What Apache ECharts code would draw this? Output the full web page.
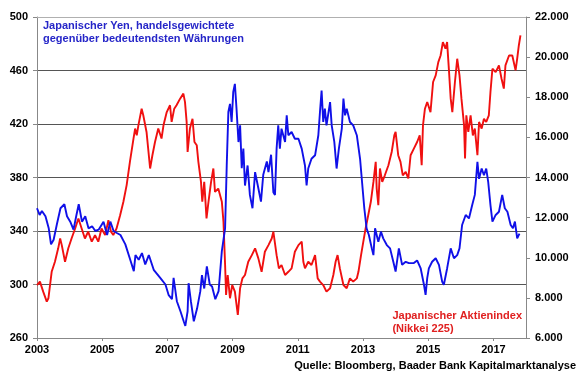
<!DOCTYPE html>
<html>
<head>
<meta charset="utf-8">
<script src="https://cdn.jsdelivr.net/npm/echarts@6/dist/echarts.min.js"></script>
<style>html,body{margin:0;padding:0;background:#fff;}#c{width:580px;height:375px;}</style>
</head>
<body>
<div id="c"></div>
<script>
// Time (decimal years) and values
const yenTimes = [2003.00,2003.08,2003.15,2003.26,2003.36,2003.43,2003.51,2003.61,2003.72,2003.84,2003.92,2004.02,2004.12,2004.21,2004.28,2004.38,2004.48,2004.58,2004.69,2004.79,2004.89,2005.04,2005.15,2005.25,2005.35,2005.45,2005.56,2005.71,2005.86,2005.97,2006.02,2006.12,2006.22,2006.32,2006.43,2006.58,2006.78,2006.94,2007.04,2007.14,2007.19,2007.29,2007.40,2007.50,2007.55,2007.62,2007.65,2007.72,2007.81,2007.91,2008.01,2008.06,2008.13,2008.21,2008.30,2008.37,2008.47,2008.57,2008.67,2008.77,2008.82,2008.87,2008.92,2008.97,2009.02,2009.07,2009.12,2009.18,2009.23,2009.28,2009.33,2009.38,2009.46,2009.53,2009.61,2009.69,2009.79,2009.87,2009.94,2010.05,2010.10,2010.18,2010.25,2010.30,2010.35,2010.40,2010.45,2010.50,2010.61,2010.66,2010.71,2010.81,2010.91,2011.02,2011.12,2011.22,2011.27,2011.32,2011.42,2011.53,2011.63,2011.68,2011.73,2011.78,2011.83,2011.88,2011.99,2012.04,2012.12,2012.19,2012.26,2012.35,2012.40,2012.45,2012.50,2012.60,2012.70,2012.81,2012.91,2012.98,2013.04,2013.11,2013.18,2013.27,2013.32,2013.37,2013.47,2013.55,2013.62,2013.73,2013.83,2013.93,2014.00,2014.10,2014.20,2014.31,2014.41,2014.56,2014.66,2014.77,2014.87,2014.92,2014.97,2015.02,2015.12,2015.23,2015.33,2015.43,2015.48,2015.58,2015.69,2015.79,2015.89,2015.96,2016.04,2016.15,2016.25,2016.35,2016.43,2016.51,2016.56,2016.64,2016.71,2016.78,2016.84,2016.91,2016.97,2017.07,2017.17,2017.27,2017.35,2017.43,2017.53,2017.60,2017.66,2017.73,2017.80];
const yenValues = [357,352,355,351,342,330,333.5,345,357,360,351,347,341,352,360,347,351,342,343.5,340,341,347,337,347,340,338.5,337,330,318.5,310,322,318.5,323.5,315,322,311,305,300,292,289,305,287.5,280,272.5,269,280,301,287.5,272.5,282,295,307,297,313.5,300,298.5,289,295,325,342,389,429,435,421.5,444,450,431.5,406.5,419,387,401.6,374,389,367,357,384,372,362,382,392,384,397,369,367,401.6,419,401.6,416.5,406.6,426.5,411.6,414,409,409,401.6,389,374,386.7,394,396.6,411.6,429,445,421.5,431.5,419,436.4,419,406.6,386.7,401.6,416.5,439,426.5,431.5,421.5,419,411.6,394,374,357,342,337,327,322,342,332,339.5,334.5,329.5,327,317,309.7,327,314.7,317,316,316,318,312,299.8,292.3,304.7,312,317,319.6,314.7,302,299.8,312,327,319.6,322,327,344.5,352,349.4,359.4,367,391.7,379,386.7,381.7,386.7,376.8,359.4,347,352,354.4,367,357,354.4,344.5,342,347,334.5,338];

const nikkeiTimes = [2003.00,2003.09,2003.19,2003.30,2003.35,2003.45,2003.55,2003.65,2003.71,2003.76,2003.86,2003.96,2004.06,2004.17,2004.27,2004.37,2004.47,2004.57,2004.68,2004.78,2004.88,2004.98,2005.09,2005.19,2005.27,2005.34,2005.44,2005.55,2005.65,2005.75,2005.85,2005.96,2006.01,2006.06,2006.11,2006.21,2006.26,2006.36,2006.47,2006.54,2006.62,2006.72,2006.82,2006.88,2006.98,2007.08,2007.13,2007.21,2007.28,2007.39,2007.49,2007.54,2007.59,2007.62,2007.69,2007.77,2007.83,2007.90,2007.95,2008.03,2008.07,2008.13,2008.20,2008.26,2008.34,2008.41,2008.46,2008.56,2008.67,2008.72,2008.77,2008.80,2008.85,2008.92,2008.99,2009.07,2009.16,2009.23,2009.30,2009.38,2009.48,2009.59,2009.69,2009.79,2009.89,2009.99,2010.10,2010.20,2010.25,2010.35,2010.42,2010.50,2010.61,2010.71,2010.81,2010.91,2011.02,2011.12,2011.17,2011.22,2011.32,2011.42,2011.53,2011.61,2011.68,2011.78,2011.88,2011.99,2012.09,2012.16,2012.22,2012.29,2012.40,2012.50,2012.60,2012.70,2012.81,2012.86,2012.94,2013.01,2013.08,2013.16,2013.24,2013.32,2013.39,2013.42,2013.47,2013.52,2013.59,2013.67,2013.78,2013.88,2013.96,2014.00,2014.08,2014.15,2014.22,2014.31,2014.39,2014.46,2014.56,2014.66,2014.74,2014.80,2014.84,2014.90,2014.97,2015.07,2015.15,2015.23,2015.31,2015.38,2015.45,2015.53,2015.58,2015.64,2015.69,2015.74,2015.82,2015.89,2015.96,2016.02,2016.10,2016.13,2016.17,2016.23,2016.30,2016.37,2016.43,2016.51,2016.56,2016.64,2016.71,2016.78,2016.86,2016.91,2016.97,2017.07,2017.17,2017.25,2017.32,2017.37,2017.48,2017.58,2017.68,2017.73,2017.78,2017.83];
const nikkeiValues = [8640,8810,8310,7810,7980,9300,9800,10470,10960,10630,9800,10470,10960,11460,11960,11460,10960,11300,10800,11130,10800,11460,11130,11870,11300,11130,11460,12120,12790,13620,14780,15940,16440,16100,16600,17430,17100,16270,14450,15110,15770,16440,15940,16600,17260,17600,16770,17430,17600,17930,18180,17760,16770,15270,16440,16930,15770,15610,14780,13780,12790,13780,11960,12790,13780,14450,13280,13450,12790,11790,9640,8150,9140,7980,8640,8310,7150,8480,8970,9140,9800,10130,10470,9970,9300,10300,10630,10960,11300,10130,9470,9640,9140,9300,9470,10300,10630,10800,9800,9470,9800,9640,10130,8970,8810,8640,8310,8480,9140,9800,10130,9470,8640,8480,8970,8810,8970,9300,10130,10800,11460,12120,12790,13780,14780,13450,12620,14450,13780,14110,14610,15270,16100,16270,15110,14780,14110,14280,13950,15110,15440,15770,16100,14610,16600,17430,17760,17260,18760,19090,19750,20080,20750,20420,20750,19250,17930,17260,18760,19920,19090,17930,16600,14950,17100,16270,17100,16100,16440,15110,16770,16440,16930,16770,17100,18260,19420,19250,19590,18920,18430,19590,20080,20080,19340,19920,20580,21080];

const xTickYears = [2003, 2005, 2007, 2009, 2011, 2013, 2015, 2017];
const yenTicks = [260, 300, 340, 380, 420, 460, 500];
const nikkeiTicks = [6000, 8000, 10000, 12000, 14000, 16000, 18000, 20000, 22000];

const yenLabel = ['Japanischer Yen, handelsgewichtete', 'gegenüber bedeutendsten Währungen'];
const nikkeiLabel = ['Japanischer Aktienindex', '(Nikkei 225)'];
const sourceText = 'Quelle: Bloomberg, Baader Bank Kapitalmarktanalyse';

const yenData = yenTimes.map((t, i) => [t, yenValues[i]]);
const nikkeiData = nikkeiTimes.map((t, i) => [t, nikkeiValues[i]]);

const FONT = 'Arial, "Liberation Sans", sans-serif';
const labelStyle = { color: '#000', fontSize: 11, fontWeight: 'bold', fontFamily: FONT };

const chart = echarts.init(document.getElementById('c'), null, { renderer: 'canvas' });
chart.setOption({
  animation: false,
  backgroundColor: '#fff',
  grid: { left: 37, right: 54, top: 17, bottom: 37, containLabel: false },
  xAxis: [{
    type: 'value', min: 2003, max: 2018, position: 'bottom',
    axisLine: { show: true, lineStyle: { color: '#888', width: 1 } },
    axisTick: { show: true, inside: false, length: 3, customValues: xTickYears, lineStyle: { color: '#888' } },
    axisLabel: Object.assign({ customValues: xTickYears, margin: 6, formatter: v => String(v) }, labelStyle),
    splitLine: { show: false }
  }, {
    type: 'value', min: 2003, max: 2018, position: 'top',
    axisLine: { show: true, lineStyle: { color: '#b0b0b0', width: 1 } },
    axisTick: { show: false }, axisLabel: { show: false }, splitLine: { show: false }
  }],
  yAxis: [{
    type: 'value', min: yenTicks[0], max: yenTicks[yenTicks.length - 1], interval: 40, position: 'left',
    axisLine: { show: true, lineStyle: { color: '#888', width: 1 } },
    axisTick: { show: true, inside: false, length: 4, lineStyle: { color: '#888' } },
    axisLabel: Object.assign({ margin: 9 }, labelStyle),
    splitLine: { show: true, showMinLine: false, showMaxLine: false, lineStyle: { color: '#555', width: 1 } }
  }, {
    type: 'value', min: nikkeiTicks[0], max: nikkeiTicks[nikkeiTicks.length - 1], interval: 2000, position: 'right',
    axisLine: { show: true, lineStyle: { color: '#888', width: 1 } },
    axisTick: { show: true, inside: false, length: 4, lineStyle: { color: '#888' } },
    axisLabel: Object.assign({ margin: 9, formatter: v => String(v).replace(/\B(?=(\d{3})+(?!\d))/g, '.') }, labelStyle),
    splitLine: { show: false }
  }],
  series: [{
    name: 'Nikkei 225', type: 'line', xAxisIndex: 0, yAxisIndex: 1, data: nikkeiData,
    showSymbol: false, symbol: 'none', lineStyle: { color: '#f01010', width: 1.9 }, z: 3
  }, {
    name: 'Yen', type: 'line', xAxisIndex: 0, yAxisIndex: 0, data: yenData,
    showSymbol: false, symbol: 'none', lineStyle: { color: '#1010e8', width: 1.9 }, z: 4
  }],
  graphic: [{
    type: 'text', left: 43, top: 19, z: 10,
    style: { text: yenLabel.join('\n'), fill: '#2626c8', font: 'bold 11px ' + FONT, lineHeight: 13 }
  }, {
    type: 'text', right: 58, top: 309, z: 10,
    style: { text: nikkeiLabel.join('\n'), fill: '#e02020', font: 'bold 11px ' + FONT, lineHeight: 13, align: 'right' }
  }, {
    type: 'text', right: 4, top: 360, z: 10,
    style: { text: sourceText, fill: '#000', font: 'bold 11px ' + FONT }
  }]
});
</script>
</body>
</html>
